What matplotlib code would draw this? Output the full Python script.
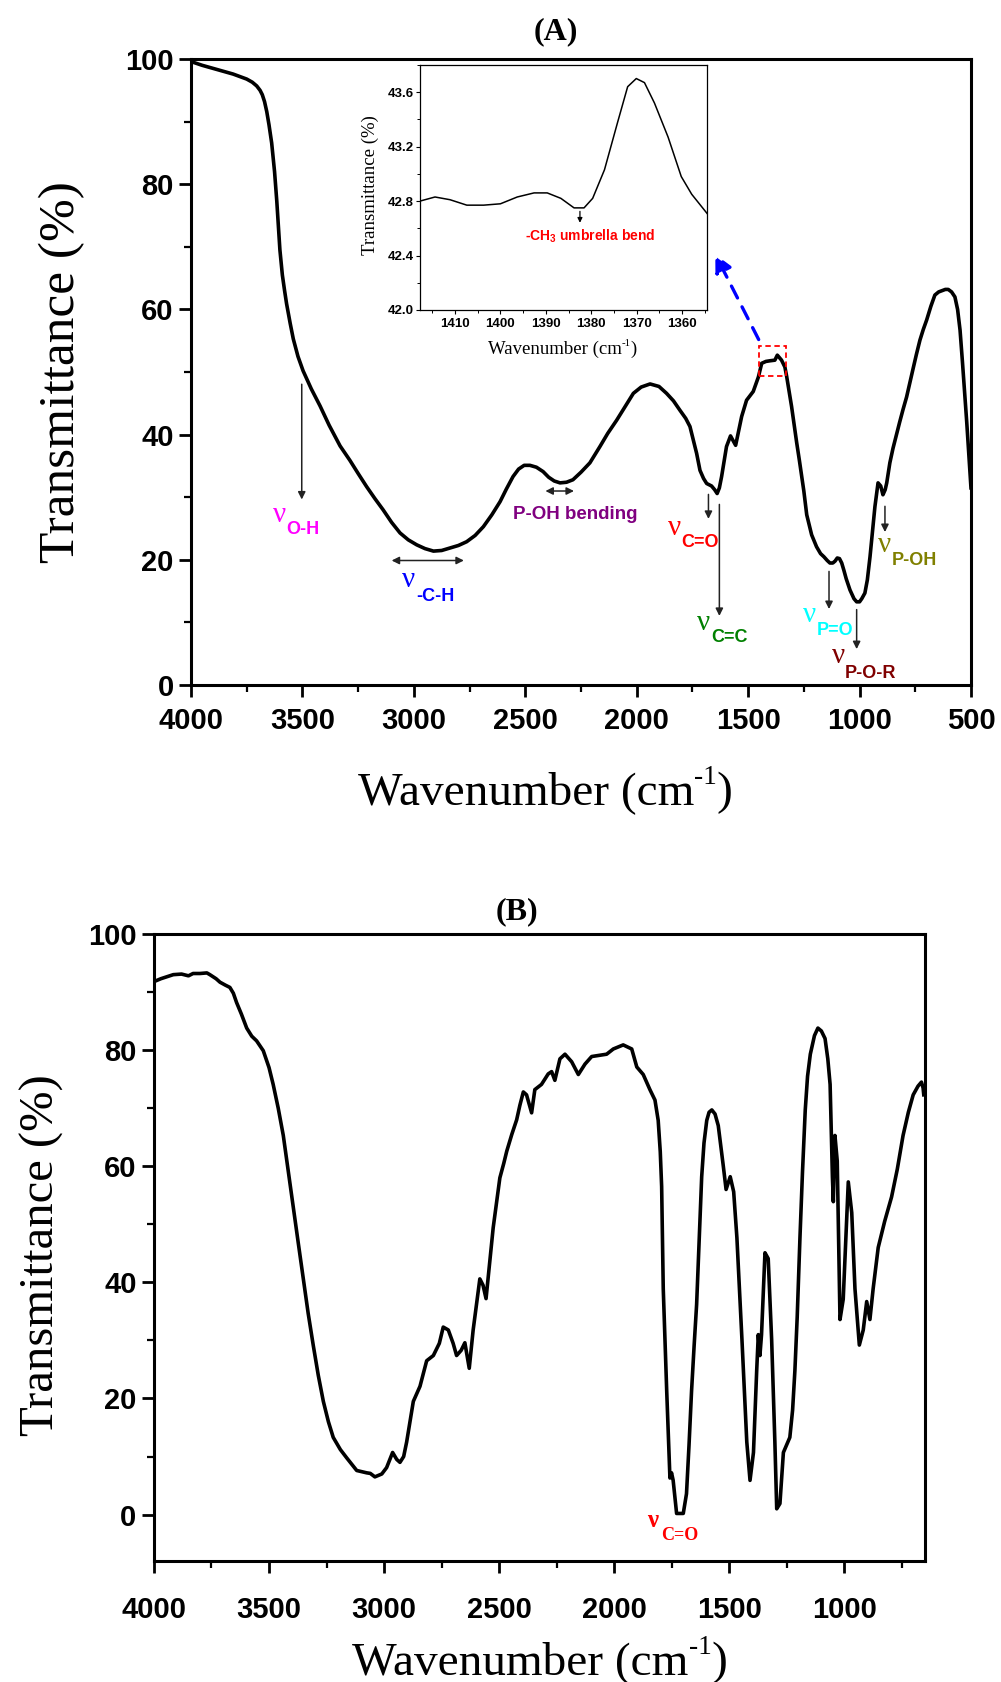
import matplotlib
matplotlib.use("Agg")
import matplotlib.pyplot as plt
from matplotlib.patches import Rectangle
from matplotlib.ticker import MultipleLocator, FormatStrFormatter

### spectre (A) : nombre d'onde / transmittance
wn_a = [4000, 3950, 3900, 3850, 3811, 3780, 3750, 3725, 3705, 3690, 3680, 3670, 3660, 3650, 3638,
        3625, 3615, 3601, 3590, 3580, 3571, 3555, 3541, 3520, 3497, 3460, 3421, 3380, 3331, 3287,
        3250, 3212, 3175, 3138, 3100, 3062, 3025, 2987, 2950, 2912, 2875, 2838, 2800, 2763, 2725,
        2688, 2650, 2613, 2585, 2555, 2530, 2505, 2479, 2450, 2420, 2395, 2370, 2344, 2315, 2286,
        2250, 2210, 2165, 2130, 2090, 2050, 2015, 1980, 1940, 1900, 1866, 1835, 1806, 1780, 1761,
        1731, 1716, 1700, 1686, 1664, 1650, 1639, 1629, 1619, 1597, 1579, 1556, 1529, 1507, 1477,
        1454, 1439, 1420, 1402, 1380, 1369, 1350, 1335, 1327, 1305, 1282, 1270, 1250, 1237, 1215,
        1193, 1175, 1160, 1145, 1133, 1120, 1110, 1100, 1090, 1080, 1070, 1060, 1043, 1025, 1013,
        1000, 990, 976, 965, 953, 931, 917, 905, 895, 885, 878, 864, 850, 835, 820,
        805, 789, 775, 760, 745, 729, 714, 699, 680, 662, 645, 630, 615, 602, 587,
        572, 560, 549, 538, 527, 519, 512, 506, 500]
t_a = [99.6, 99.0, 98.5, 98.0, 97.6, 97.2, 96.8, 96.3, 95.7, 95.0, 94.3, 93.2, 91.6, 89.5, 86.6,
       82.0, 77.3, 69.5, 65.5, 63.0, 60.9, 57.8, 55.3, 52.5, 50.2, 47.3, 44.6, 41.5, 38.2, 35.9,
       33.8, 31.7, 29.8, 28.0, 26.0, 24.3, 23.2, 22.4, 21.8, 21.4, 21.5, 21.9, 22.3, 22.9, 23.9,
       25.3, 27.2, 29.3, 31.3, 33.3, 34.5, 35.1, 35.1, 34.8, 34.1, 33.2, 32.6, 32.3, 32.4, 32.8,
       34.0, 35.5, 38.1, 40.2, 42.3, 44.6, 46.6, 47.6, 48.1, 47.7, 46.6, 45.4, 43.9, 42.6, 41.3,
       37.0, 34.3, 33.0, 32.2, 31.8, 31.2, 30.6, 31.5, 33.3, 38.1, 39.8, 38.3, 42.9, 45.5, 46.9,
       49.2, 51.4, 51.7, 51.8, 51.9, 52.7, 51.9, 50.8, 49.3, 44.5, 38.7, 35.9, 31.0, 27.2, 24.0,
       22.1, 21.0, 20.5, 19.9, 19.5, 19.5, 19.8, 20.3, 20.2, 19.5, 18.3, 17.0, 15.2, 13.8, 13.3,
       13.3, 13.8, 14.7, 16.8, 20.5, 28.5, 32.3, 31.8, 30.4, 31.2, 32.3, 35.5, 37.8, 39.9, 42.0,
       44.0, 46.0, 48.2, 50.5, 52.8, 55.1, 56.8, 58.3, 60.5, 62.3, 62.8, 63.0, 63.2, 63.2, 62.8,
       62.0, 60.0, 56.7, 51.5, 46.0, 42.0, 38.1, 35.0, 31.5]

### zoom (encart) autour de 1380 cm-1
wn_in = [1417.7, 1414.4, 1411.1, 1407.4, 1403.7, 1400.0, 1396.3, 1392.6, 1389.7, 1386.7, 1383.8,
         1381.6, 1379.7, 1377.1, 1374.2, 1372.0, 1370.1, 1368.3, 1366.1, 1363.1, 1360.2, 1357.9, 1354.3]
t_in = [42.80, 42.83, 42.81, 42.77, 42.77, 42.78, 42.83, 42.86, 42.86, 42.82, 42.75,
        42.75, 42.82, 43.03, 43.38, 43.64, 43.70, 43.67, 43.52, 43.27, 42.98, 42.85, 42.70]

### spectre (B)
wn_b = [4000, 3970, 3916, 3880, 3850, 3830, 3800, 3770, 3757, 3730, 3713, 3690, 3670, 3655, 3641,
        3620, 3597, 3575, 3554, 3525, 3500, 3482, 3460, 3438, 3417, 3395, 3373, 3351, 3330, 3308,
        3286, 3264, 3242, 3221, 3190, 3163, 3119, 3076, 3060, 3040, 3010, 2989, 2963, 2945, 2931,
        2915, 2902, 2873, 2844, 2815, 2786, 2760, 2743, 2721, 2700, 2685, 2665, 2649, 2630, 2613,
        2584, 2570, 2557, 2526, 2497, 2480, 2467, 2445, 2424, 2410, 2395, 2381, 2359, 2345, 2316,
        2287, 2272, 2258, 2236, 2214, 2185, 2156, 2127, 2098, 2033, 2004, 1961, 1924, 1902, 1874,
        1845, 1823, 1809, 1800, 1794, 1787, 1772, 1758, 1751, 1744, 1729, 1700, 1686, 1675, 1664,
        1653, 1642, 1631, 1620, 1610, 1598, 1588, 1576, 1562, 1548, 1526, 1514, 1496, 1481, 1467,
        1445, 1424, 1410, 1395, 1381, 1374, 1367, 1360, 1345, 1331, 1316, 1302, 1294, 1280, 1265,
        1237, 1225, 1215, 1205, 1193, 1182, 1170, 1160, 1148, 1130, 1115, 1100, 1084, 1072, 1062,
        1052, 1048, 1041, 1031, 1019, 1005, 983, 968, 954, 935, 918, 903, 889, 875, 853,
        825, 795, 770, 745, 722, 701, 680, 665, 658, 655]
t_b = [91.8, 92.3, 93.0, 93.1, 92.8, 93.2, 93.2, 93.3, 93.0, 92.3, 91.7, 91.2, 90.8, 89.8, 88.2,
       86.2, 83.8, 82.4, 81.6, 79.9, 77.0, 74.1, 70.0, 65.3, 59.3, 53.0, 46.8, 40.6, 34.7, 29.2,
       24.0, 19.5, 16.0, 13.3, 11.2, 9.8, 7.6, 7.2, 7.1, 6.5, 7.0, 8.1, 10.7, 9.5, 9.0,
       10.0, 12.5, 19.5, 22.1, 26.5, 27.4, 29.5, 32.3, 31.8, 29.5, 27.4, 28.3, 29.6, 25.2, 31.8,
       40.6, 39.5, 37.2, 49.4, 58.0, 60.5, 62.6, 65.5, 68.0, 70.5, 72.8, 72.3, 69.2, 73.2, 74.1,
       75.9, 76.3, 74.8, 78.5, 79.3, 78.0, 75.8, 77.6, 78.9, 79.3, 80.2, 80.9, 80.2, 77.1, 75.8,
       73.2, 71.4, 67.9, 62.5, 56.5, 38.9, 21.3, 6.3, 7.2, 5.9, 0.2, 0.2, 3.6, 12.0, 21.3,
       29.0, 36.2, 47.0, 58.2, 64.0, 67.9, 69.3, 69.7, 69.0, 67.0, 60.0, 56.0, 58.2, 55.6, 47.7,
       30.1, 12.5, 5.9, 10.7, 24.8, 31.0, 27.4, 31.0, 45.1, 44.1, 30.1, 12.5, 1.0, 1.9, 10.7,
       13.3, 18.0, 24.8, 34.0, 47.7, 59.0, 69.7, 75.5, 79.3, 82.5, 83.8, 83.3, 82.0, 78.5, 74.1,
       58.2, 53.9, 65.3, 60.9, 33.6, 37.1, 57.3, 52.0, 38.9, 29.2, 31.8, 36.7, 33.6, 38.9, 46.0,
       50.5, 54.7, 59.5, 65.3, 69.3, 72.3, 73.8, 74.5, 73.5, 72.3]

### attributions des bandes (A) : flèches verticales (x, y début, y fin)
band_subs = ["O-H", "C=O", "C=C", "P=O", "P-O-R", "P-OH"]
band_colors = ["#ff00ff", "#ff0000", "#008000", "#00ffff", "#800000", "#808000"]
arrow_x = [3503, 1678, 1629, 1137, 1013, 886]
arrow_y0 = [48.5, 30.9, 29.3, 18.6, 12.5, 29.0]
arrow_y1 = [29.2, 26.1, 10.6, 11.7, 5.3, 24.0]
nu_x = [3633, 1858, 1731, 1253, 1125, 916]
nu_y = [26.1, 24.0, 8.8, 10.1, 3.5, 21.3]
sub_x = [3571, 1798, 1667, 1192, 1065, 856]
sub_y = [24.2, 22.1, 6.9, 8.0, 1.2, 19.2]


serif = "Liberation Serif"
sans = "Liberation Sans"
W, H = 1001, 1682

fig = plt.figure(figsize=(W / 100, H / 100), dpi=100)
renderer = fig.canvas.get_renderer()


def style_axes(ax, lw=2.2):
    for s in ax.spines.values():
        s.set_linewidth(lw)
    ax.tick_params(which="major", direction="out", length=8.5, width=2, top=False, right=False)
    ax.tick_params(which="minor", direction="out", length=5, width=1.6, top=False, right=False)
    for lab in ax.get_xticklabels() + ax.get_yticklabels():
        lab.set_fontfamily(sans)
        lab.set_fontweight("bold")
        lab.set_fontsize(21)


def wavenumber_label(xc, ybase, size):
    # "Wavenumber (cm" + exposant "-1" (tiret simple) + ")"
    parts = [("Wavenumber (cm", size, 0.0), ("-1", size * 0.58, size * 0.42), (")", size, 0.0)]
    texts, widths = [], []
    for s, fs, dy in parts:
        t = fig.text(0, 0, s, fontfamily=serif, fontsize=fs, ha="left", va="baseline")
        widths.append(t.get_window_extent(renderer).width)
        texts.append((t, dy))
    x = xc - sum(widths) / 2
    for (t, dy), w in zip(texts, widths):
        t.set_position((x / W, 1 - (ybase - dy * 100 / 72) / H))
        x += w


### (A)
ax1 = fig.add_axes([0.1908, 0.5927, 0.7792, 0.3722])
ax1.plot(wn_a, t_a, color="black", lw=2.6, solid_joinstyle="round")
ax1.set_xlim(4000, 500)
ax1.set_ylim(0, 100)
ax1.xaxis.set_major_locator(MultipleLocator(500))
ax1.xaxis.set_minor_locator(MultipleLocator(250))
ax1.yaxis.set_major_locator(MultipleLocator(20))
ax1.yaxis.set_minor_locator(MultipleLocator(10))
style_axes(ax1)
ax1.tick_params(axis="x", which="major", pad=7)
ax1.tick_params(axis="y", which="major", pad=4)

for i in range(len(band_subs)):
    ax1.annotate("", xy=(arrow_x[i], arrow_y1[i]), xytext=(arrow_x[i], arrow_y0[i]),
                 arrowprops=dict(arrowstyle="-|>", color="#222222", lw=1.1, mutation_scale=11))
    ax1.text(nu_x[i], nu_y[i], "ν", color=band_colors[i], fontfamily=serif, fontsize=21,
             ha="left", va="baseline")
    ax1.text(sub_x[i], sub_y[i], band_subs[i], color=band_colors[i], fontfamily=sans,
             fontweight="bold", fontsize=13, ha="left", va="baseline")

# -C-H (double flèche)
ax1.annotate("", xy=(2763, 19.9), xytext=(3112, 19.9),
             arrowprops=dict(arrowstyle="<|-|>", color="#222222", lw=1.1, mutation_scale=11))
ax1.text(3055, 15.7, "ν", color="#0000ff", fontfamily=serif, fontsize=21, ha="left", va="baseline")
ax1.text(2990, 13.5, "-C-H", color="#0000ff", fontfamily=sans, fontweight="bold", fontsize=13,
         ha="left", va="baseline")

# P-OH bending
ax1.annotate("", xy=(2269, 31.0), xytext=(2422, 31.0),
             arrowprops=dict(arrowstyle="<|-|>", color="#222222", lw=1.1, mutation_scale=11))
ax1.text(2555, 26.5, "P-OH bending", color="#800080", fontfamily=sans, fontweight="bold",
         fontsize=13.5, ha="left", va="baseline")

# cadre rouge + flèche bleue vers l'encart
ax1.add_patch(Rectangle((1450, 49.4), 1332 - 1450, 54.2 - 49.4, fill=False, ec="red",
                        ls=(0, (3, 2)), lw=1.3, zorder=5))
ax1.annotate("", xy=(1653, 69.2), xytext=(1447, 54.8),
             arrowprops=dict(arrowstyle="-|>", color="blue", lw=2.4, ls=(0, (4, 3)),
                             mutation_scale=26))

fig.text(555.5 / W, 1 - 32 / H, "(A)", fontfamily=serif, fontweight="bold", fontsize=23,
         ha="center", va="center")
fig.text(62 / W, 1 - 372 / H, "Transmittance (%)", fontfamily=serif, fontsize=37,
         rotation=90, ha="center", va="center")
wavenumber_label(545, 804, 34)

### encart
axin = fig.add_axes([0.4196, 0.8157, 0.2864, 0.1457])
axin.plot(wn_in, t_in, color="black", lw=1.1, solid_joinstyle="round")
axin.set_xlim(1417.7, 1354.6)
axin.set_ylim(42.0, 43.8)
axin.xaxis.set_major_locator(MultipleLocator(10))
axin.xaxis.set_minor_locator(MultipleLocator(5))
axin.yaxis.set_major_locator(MultipleLocator(0.4))
axin.yaxis.set_minor_locator(MultipleLocator(0.2))
axin.yaxis.set_major_formatter(FormatStrFormatter("%.1f"))
for s in axin.spines.values():
    s.set_linewidth(0.9)
axin.tick_params(which="major", direction="out", length=3, width=0.8, pad=1.5,
                 top=False, right=False)
axin.tick_params(which="minor", direction="out", length=2, width=0.7, top=False, right=False)
axin.tick_params(axis="x", pad=3)
for lab in axin.get_xticklabels() + axin.get_yticklabels():
    lab.set_fontfamily(sans)
    lab.set_fontweight("bold")
    lab.set_fontsize(9.5)
axin.annotate("", xy=(1382.5, 42.62), xytext=(1382.5, 42.745),
              arrowprops=dict(arrowstyle="-|>", color="black", lw=0.9, mutation_scale=7))
axin.text(1394.5, 42.51, r"-CH$_{\mathregular{3}}$ umbrella bend", color="red", fontfamily=sans,
          fontweight="bold", fontsize=10, ha="left", va="baseline")
fig.text(370 / W, 1 - 185 / H, "Transmittance (%)", fontfamily=serif, fontsize=13.5,
         rotation=90, ha="center", va="center")
wavenumber_label(562.5, 354, 13.5)

### (B)
ax2 = fig.add_axes([0.1538, 0.0719, 0.7702, 0.3728])
ax2.plot(wn_b, t_b, color="black", lw=2.6, solid_joinstyle="round")
ax2.set_xlim(4000, 650)
ax2.set_ylim(-8, 100)
ax2.set_xticks([4000, 3500, 3000, 2500, 2000, 1500, 1000])
ax2.set_xticks([3750, 3250, 2750, 2250, 1750, 1250, 750], minor=True)
ax2.set_yticks([0, 20, 40, 60, 80, 100])
ax2.set_yticks([10, 30, 50, 70, 90], minor=True)
style_axes(ax2)
ax2.tick_params(axis="x", which="major", pad=17)
ax2.tick_params(axis="y", which="major", pad=4)
ax2.text(1859, -2.1, "ν", color="red", fontfamily=serif, fontweight="bold", fontsize=18,
         ha="left", va="baseline")
ax2.text(1798, -4.3, "C=O", color="red", fontfamily=serif, fontweight="bold", fontsize=13,
         ha="left", va="baseline")

fig.text(516.5 / W, 1 - 912 / H, "(B)", fontfamily=serif, fontweight="bold", fontsize=23,
         ha="center", va="center")
fig.text(42 / W, 1 - 1255 / H, "Transmittance (%)", fontfamily=serif, fontsize=35,
         rotation=90, ha="center", va="center")
wavenumber_label(540, 1674, 34)

fig.savefig("out.png", dpi=100)
